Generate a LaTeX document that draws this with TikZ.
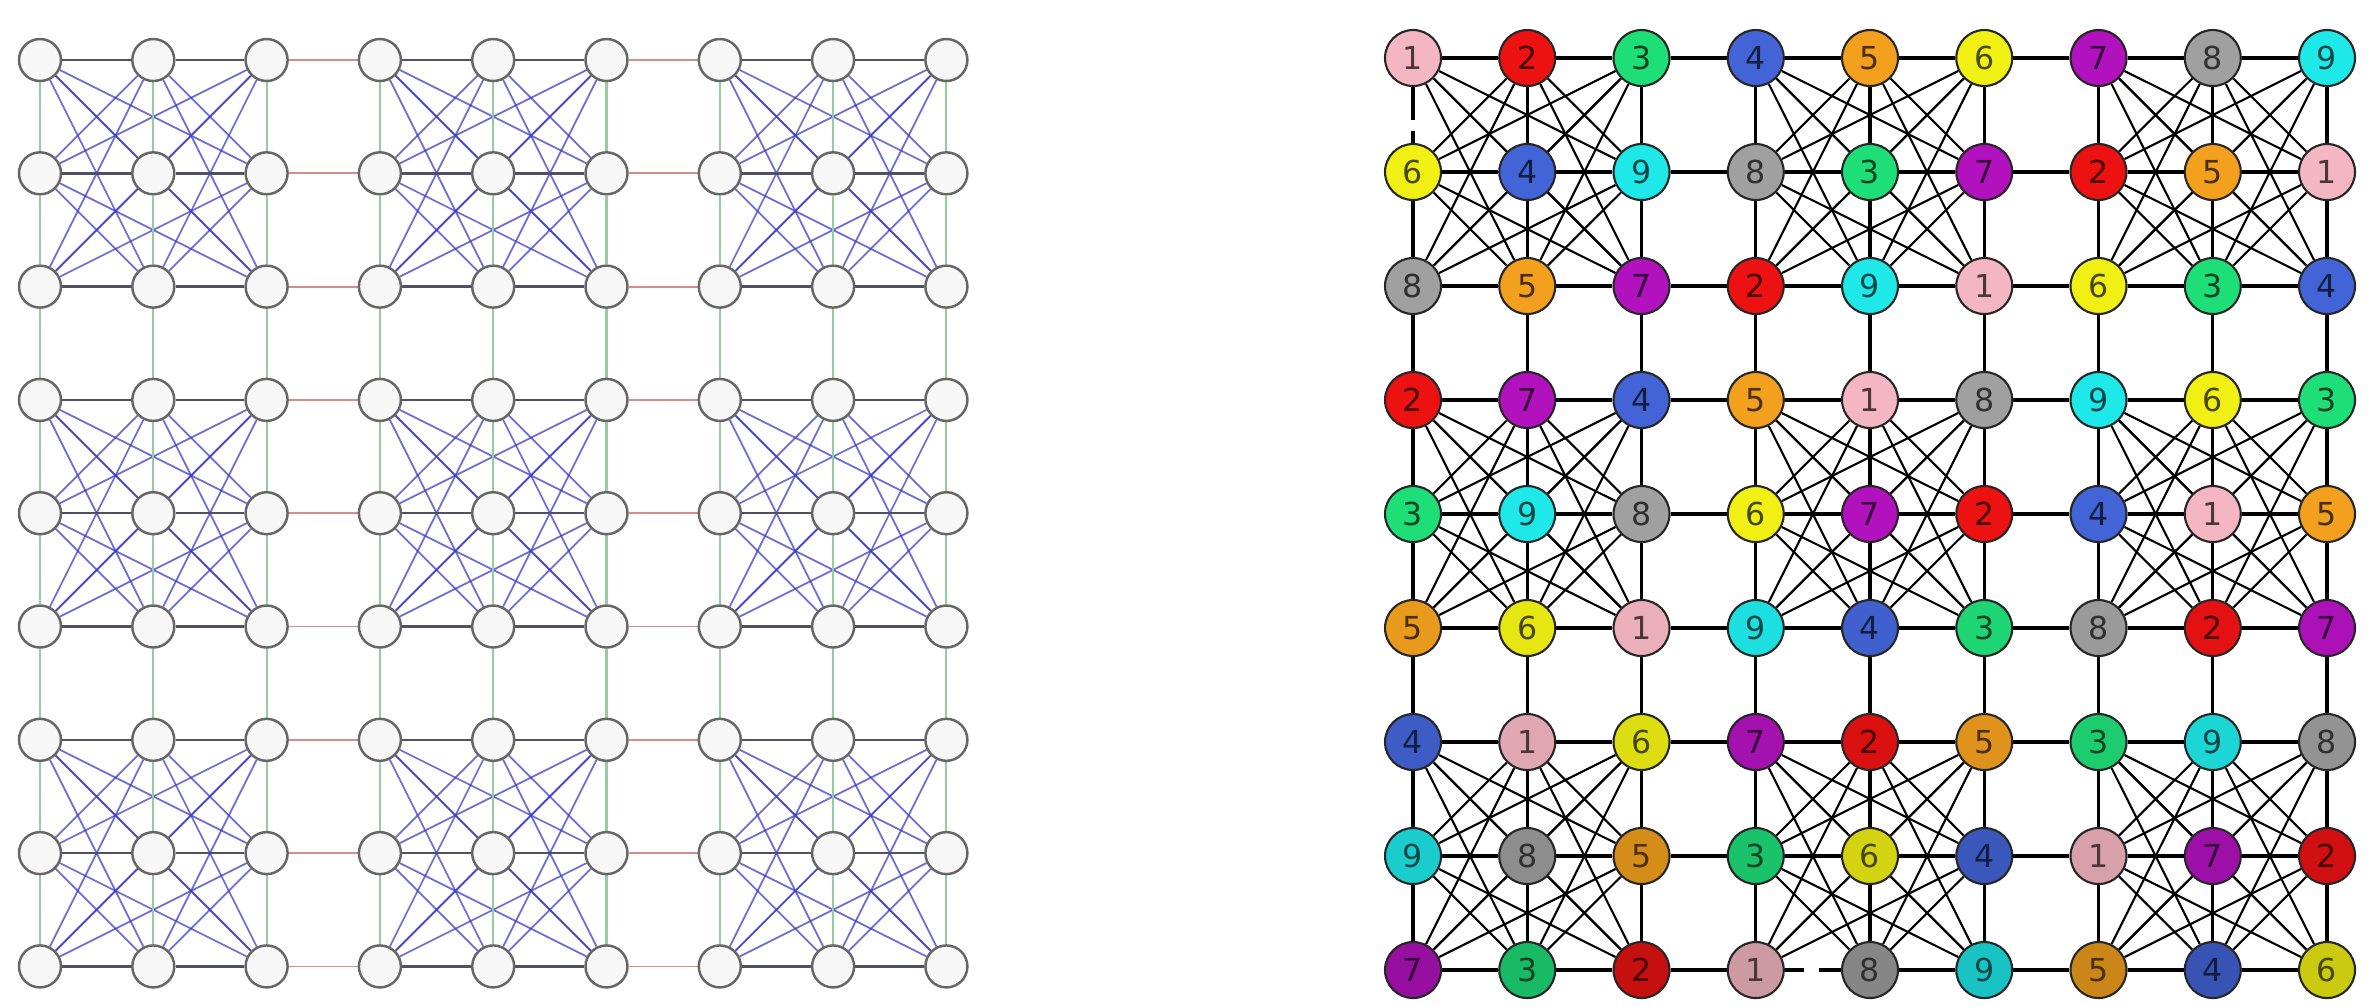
\documentclass[tikz,border=0pt]{standalone}
\usepackage{fontspec}
\setsansfont{DejaVu Sans}
\usetikzlibrary{backgrounds,calc}

\definecolor{c1}{RGB}{244,182,194}
\definecolor{c2}{RGB}{236,18,18}
\definecolor{c3}{RGB}{30,222,120}
\definecolor{c4}{RGB}{66,100,214}
\definecolor{c5}{RGB}{242,160,30}
\definecolor{c6}{RGB}{240,240,20}
\definecolor{c7}{RGB}{178,18,190}
\definecolor{c8}{RGB}{160,160,160}
\definecolor{c9}{RGB}{30,232,232}

\tikzset{
  blank/.style={circle,draw=black!60,fill=black!3,line width=0.7pt,minimum size=0.42cm,inner sep=0pt},
  cell/.style={circle,draw=black!85,line width=0.6pt,minimum size=0.56cm,inner sep=0pt,
    font=\sffamily\fontsize{9}{9}\selectfont},
  ablock/.style={draw={rgb,255:red,60;green,60;blue,200},opacity=0.75,line width=0.5pt},
  acol/.style={draw={rgb,255:red,150;green,205;blue,160},line width=0.6pt},
  arowin/.style={draw={rgb,255:red,80;green,80;blue,100},line width=0.7pt},
  arowout/.style={draw={rgb,255:red,215;green,140;blue,140},line width=0.5pt},
  bblock/.style={draw=black,line width=0.6pt},
  bline/.style={draw=black,line width=0.9pt},
}

\begin{document}
\begin{tikzpicture}
\useasboundingbox (0,0) rectangle (23.68,-10.06);

% left graph, empty cells
\foreach \x in {0,...,8} {
  \foreach \y in {0,...,8} {
    \node[blank] (a-\x-\y) at (0.40+1.133*\x,-0.60-1.133*\y) {};
  }
}

% right graph, coloured cells
\foreach \y/\row in {0/{1,2,3,4,5,6,7,8,9},1/{6,4,9,8,3,7,2,5,1},2/{8,5,7,2,9,1,6,3,4},
    3/{2,7,4,5,1,8,9,6,3},4/{3,9,8,6,7,2,4,1,5},5/{5,6,1,9,4,3,8,2,7},
    6/{4,1,6,7,2,5,3,9,8},7/{9,8,5,3,6,4,1,7,2},8/{7,3,2,1,8,9,5,4,6}} {
  \pgfmathtruncatemacro\shade{100-4*max(0,\y-4)}
  \foreach \v [count=\x from 0] in \row {
    \node[cell,fill=c\v!\shade!black,text=c\v!30!black] (b-\x-\y)
      at (14.13+1.1425*\x,-0.58-1.14*\y) {\v};
  }
}

\begin{pgfonlayer}{background}
  % edges inside each 3x3 block
  \foreach \g/\st in {a/ablock,b/bblock} {
    \foreach \bx in {0,3,6} {
      \foreach \by in {0,3,6} {
        \foreach \ra in {0,1,2} {
          \foreach \rb in {0,1,2} {
            \ifnum\rb>\ra
            \foreach \ca in {0,1,2} {
              \foreach \cb in {0,1,2} {
                \ifnum\ca=\cb\else
                  \pgfmathtruncatemacro\xa{\bx+\ca}
                  \pgfmathtruncatemacro\xb{\bx+\cb}
                  \pgfmathtruncatemacro\ya{\by+\ra}
                  \pgfmathtruncatemacro\yb{\by+\rb}
                  \draw[\st] (\g-\xa-\ya) -- (\g-\xb-\yb);
                \fi
              }
            }
            \fi
          }
        }
      }
    }
  }
  % columns
  \foreach \x in {0,...,8} {
    \foreach \y [evaluate=\y as \ny using int(\y+1)] in {0,...,7} {
      \draw[acol] (a-\x-\y) -- (a-\x-\ny);
      \draw[bline] (b-\x-\y) -- (b-\x-\ny);
    }
  }
  % rows
  \foreach \y in {0,...,8} {
    \foreach \x [evaluate=\x as \nx using int(\x+1)] in {0,...,7} {
      \pgfmathtruncatemacro\out{mod(\x,3)==2}
      \ifnum\out=1
        \draw[arowout] (a-\x-\y) -- (a-\nx-\y);
      \else
        \draw[arowin] (a-\x-\y) -- (a-\nx-\y);
      \fi
      \draw[bline] (b-\x-\y) -- (b-\nx-\y);
    }
  }
\end{pgfonlayer}

% breaks in two lines
\draw[white,line width=2pt] ($(b-0-0)!0.54!(b-0-1)$) -- ($(b-0-0)!0.64!(b-0-1)$);
\draw[white,line width=2pt] ($(b-3-8)!0.42!(b-4-8)$) -- ($(b-3-8)!0.55!(b-4-8)$);
\end{tikzpicture}
\end{document}
